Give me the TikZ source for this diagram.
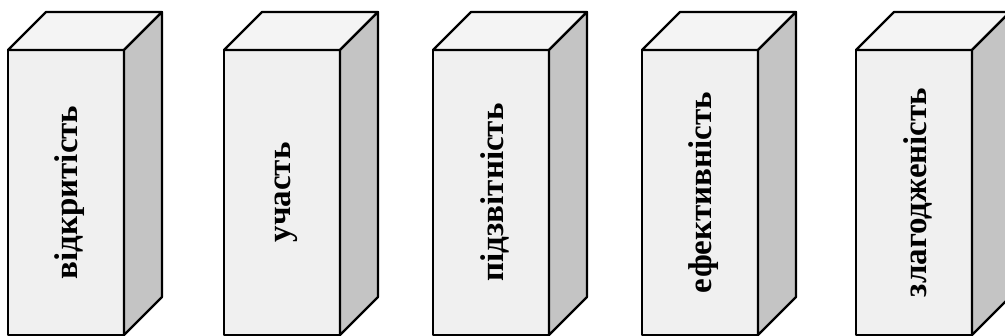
\documentclass[tikz,border=0pt]{standalone}
\usepackage{fontspec}
\setmainfont{Liberation Serif}
\usetikzlibrary{positioning,calc}
\definecolor{frontgray}{HTML}{F0F0F0}
\definecolor{topgray}{HTML}{F4F4F4}
\definecolor{sidegray}{HTML}{C4C4C4}

\begin{document}
\begin{tikzpicture}[
  x=1pt, y=1pt,
  face/.style={draw=black, line width=2.2pt, line join=round},
  front/.style={face, fill=frontgray, rectangle, minimum width=116pt,
                minimum height=285pt, inner sep=0pt, outer sep=0pt},
  lbl/.style={rotate=90, font=\fontsize{33}{38}\selectfont\bfseries, inner sep=0pt},
  topface/.style={face, fill=topgray},
  sideface/.style={face, fill=sidegray},
]
\useasboundingbox (0,0) rectangle (1005,336);

%% Front faces
\node[front, anchor=south west] (open) at (8,1) {};
\node[front, right=100pt of open] (part) {};
\node[front, right=93pt of part] (acc) {};
\node[front, right=93pt of acc] (eff) {};
\node[front, right=98pt of eff] (coh) {};

%% Top and side faces
\foreach \b in {open,part,acc,eff,coh} {
  \draw[topface] (\b.north west) -- ++(38,38) -- ++(116,0) -- (\b.north east) -- cycle;
  \draw[sideface] (\b.north east) -- ++(38,38) -- ++(0,-285) -- (\b.south east) -- cycle;
}

%% Labels
\node[lbl] (openl) at ([xshift=4pt]open.center) {відкритість};
\node[lbl] (partl) at ([xshift=4pt]part.center) {участь};
\node[lbl] (accl)  at ([xshift=4pt]acc.center)  {підзвітність};
\node[lbl] (effl)  at ([xshift=4pt]eff.center)  {ефективність};
\node[lbl] (cohl)  at ([xshift=4pt]coh.center)  {злагодженість};

\end{tikzpicture}
\end{document}
